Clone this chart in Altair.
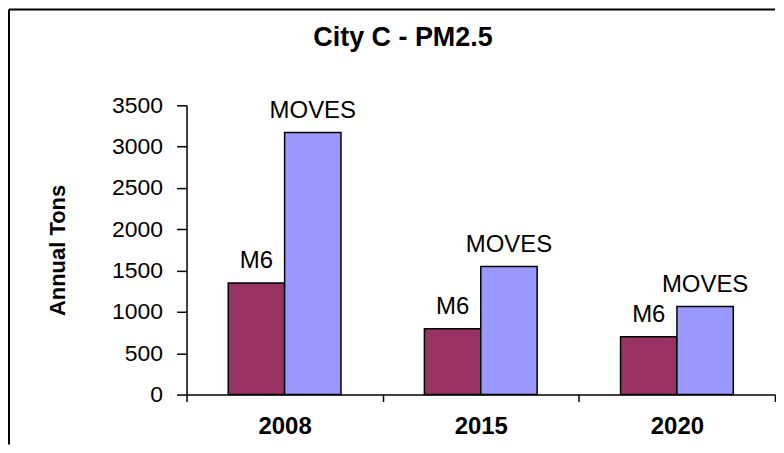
import altair as alt
import pandas as pd

years = ["2008", "2015", "2020"]
series = ["M6", "MOVES"]
m6_tons = [1350, 795, 700]
moves_tons = [3170, 1550, 1065]
y_ticks = [0, 500, 1000, 1500, 2000, 2500, 3000, 3500]
colors = ["#993366", "#9999FF"]

rows = []
for i, yr in enumerate(years):
    rows.append({"year": yr, "model": series[0], "tons": m6_tons[i]})
    rows.append({"year": yr, "model": series[1], "tons": moves_tons[i]})
df = pd.DataFrame(rows)

FONT = "Liberation Sans"
W, H = 590, 290

x = alt.X(
    "year:N", sort=years,
    scale=alt.Scale(paddingInner=0, paddingOuter=0),
    axis=alt.Axis(title=None, labelAngle=0, tickBand="extent", labelFont=FONT,
                  labelFontSize=24, labelFontWeight="bold", labelColor="black",
                  tickSize=7, labelPadding=13, domainColor="black", tickColor="black",
                  domainWidth=1.5, tickWidth=1.5),
)
xo = alt.XOffset("model:N", sort=series, scale=alt.Scale(paddingInner=0, paddingOuter=0.74))
y = alt.Y(
    "tons:Q",
    scale=alt.Scale(domain=[0, 3500], nice=False),
    axis=alt.Axis(values=y_ticks, format="d", title="Annual Tons", grid=False, labelFont=FONT,
                  labelFontSize=23, labelColor="black", tickSize=10, labelPadding=14,
                  domainColor="black", tickColor="black", domainWidth=1.5, tickWidth=1.5,
                  titleFont=FONT, titleFontSize=22, titleFontWeight="bold", titleColor="black",
                  titleAngle=270, titleX=-129, titleY=145, titleAlign="center",
                  titleBaseline="middle"),
)

base = alt.Chart(df).encode(x=x, xOffset=xo, y=y)
bars = base.mark_bar(stroke="black", strokeWidth=1.5).encode(
    color=alt.Color("model:N", sort=series,
                    scale=alt.Scale(domain=series, range=colors), legend=None)
)
labels = base.mark_text(dy=-22, font=FONT, fontSize=24, color="black").encode(
    text="model:N"
)

one = pd.DataFrame({"k": [0]})
frame_top = alt.Chart(one).mark_rule(color="black", strokeWidth=2).encode(
    x=alt.value(-178), x2=alt.value(590), y=alt.value(-96)
)
frame_left = alt.Chart(one).mark_rule(color="black", strokeWidth=2).encode(
    x=alt.value(-178), y=alt.value(-96), y2=alt.value(340)
)

chart = alt.layer(frame_top, frame_left, bars, labels).properties(
    width=W, height=H, padding=0,
    title=alt.TitleParams("City C - PM2.5", font=FONT, fontSize=27, fontWeight="bold",
                          color="black", anchor="middle", frame="group", dx=-78, offset=-44),
).configure_view(stroke=None)

chart.save("out.html", embed_options={"renderer": "svg", "actions": False})
